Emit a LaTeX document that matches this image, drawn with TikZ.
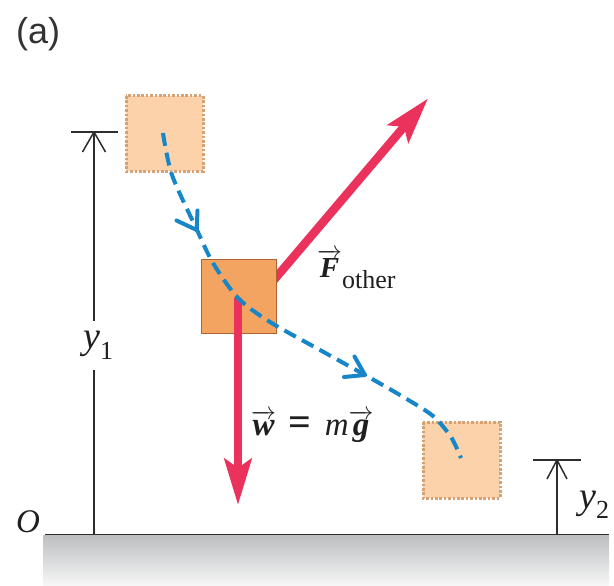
\documentclass[tikz,border=0pt]{standalone}
\usepackage{amsmath}
\usepackage{fontspec}
\setmainfont{Liberation Serif}
\newfontfamily\labelsans{Liberation Sans}
\usetikzlibrary{arrows.meta}
\definecolor{forcered}{RGB}{234,50,92}
\definecolor{pathblue}{RGB}{22,134,200}
\definecolor{boxfill}{RGB}{243,164,96}
\definecolor{boxline}{RGB}{176,98,48}
\definecolor{ghostfill}{RGB}{252,210,170}
\definecolor{ghostline}{RGB}{214,162,116}
\definecolor{dimgray}{RGB}{45,45,45}
\definecolor{groundtop}{RGB}{188,190,192}
\definecolor{groundbot}{RGB}{246,246,246}
\newcommand{\myvec}[1]{\ensuremath{\overrightarrow{\text{#1}}}}
\tikzset{
  dimline/.style={draw=dimgray, line width=1.5pt, line join=round},
  ghostbox/.style={fill=ghostfill, draw=ghostline, line width=3pt, dash pattern=on 2.6pt off 1.8pt},
  mainbox/.style={fill=boxfill, draw=boxline, line width=1.4pt},
  force/.style={draw=forcered, line width=8.5pt, -{Stealth[length=46pt,width=27pt,inset=9pt]}},
  motion/.style={draw=pathblue, line width=4pt, dash pattern=on 13pt off 7pt},
  chev/.style={draw=pathblue, line width=4pt, line join=round, line cap=round},
  lbl/.style={inner sep=0pt, anchor=base west, text=black!88}
}
\begin{document}
\begin{tikzpicture}[x=1pt,y=-1pt]
\useasboundingbox (0,0) rectangle (614,586);
\fill[white] (0,0) rectangle (614,586);

% ground
\shade[top color=groundtop, bottom color=groundbot] (43,535) rectangle (609,585);
\coordinate (gL) at (45,534.5);
\coordinate (gR) at (609,534.5);
\draw[dimline] (gL) -- (gR);
\node[lbl] (O) at (16,532) {\fontsize{33}{33}\selectfont\itshape O};

% y1 dimension
\coordinate (y1base) at (94,534);
\coordinate (y1top) at (94,132);
\coordinate (y1gapT) at (94,321);
\coordinate (y1gapB) at (94,370);
\coordinate (t1L) at (71,132);
\coordinate (t1R) at (118,132);
\coordinate (c1L) at (82.5,152);
\coordinate (c1R) at (105.5,152);
\draw[dimline] (y1base) -- (y1gapB);
\draw[dimline] (y1gapT) -- (y1top);
\draw[dimline] (t1L) -- (t1R);
\draw[dimline] (c1L) -- (y1top) -- (c1R);
\node[lbl] (y1) at (83,348) {\fontsize{38}{38}\selectfont\itshape y\raisebox{-11pt}{\fontsize{26}{26}\selectfont\upshape 1}};

% y2 dimension
\coordinate (y2base) at (557,534);
\coordinate (y2top) at (557,460);
\coordinate (t2L) at (533,460);
\coordinate (t2R) at (581,460);
\coordinate (c2L) at (547,479);
\coordinate (c2R) at (567,479);
\draw[dimline] (y2base) -- (y2top);
\draw[dimline] (t2L) -- (t2R);
\draw[dimline] (c2L) -- (y2top) -- (c2R);
\node[lbl] (y2) at (579,508) {\fontsize{38}{38}\selectfont\itshape y\raisebox{-10pt}{\fontsize{26}{26}\selectfont\upshape 2}};

% ghost boxes
\draw[ghostbox] (126,96) rectangle (203,171);
\draw[ghostbox] (423,422) rectangle (500,498);

% force F_other (behind the block)
\coordinate (Fstart) at (270.4,284.1);
\coordinate (Ftip) at (428,98.5);
\draw[force] (Fstart) -- (Ftip);

% block
\node[mainbox, minimum width=75pt, minimum height=74pt, inner sep=0pt, anchor=north west] (block) at (200.7,259) {};

% weight
\coordinate (wstart) at (238,298);
\coordinate (wtip) at (238,505);
\draw[force] (wstart) -- (wtip);

% motion path
\draw[motion] plot[smooth, tension=0.5] coordinates {(163,133) (172,175) (197,230) (213,263) (238,298) (270,322) (320,350) (365,375) (405,398) (433,416) (451,437) (461,458)};
\coordinate (a1) at (196.7,230);
\coordinate (a1u) at (197.5,210.5);
\coordinate (a1l) at (176.5,220.5);
\draw[chev] (a1u) -- (a1) -- (a1l);
\coordinate (a2) at (365,375);
\coordinate (a2u) at (354.5,356.5);
\coordinate (a2l) at (344,377);
\draw[chev] (a2u) -- (a2) -- (a2l);

% labels
\node[lbl] (Flab) at (317,277.5) {\fontsize{29}{29}\selectfont{\bfseries\itshape\myvec{F}}\raisebox{-10.5pt}{\fontsize{26}{26}\selectfont other}};
\node[lbl] (wlab) at (251,435) {\fontsize{33}{33}\selectfont{\bfseries\itshape\myvec{w}}\hspace{12pt}{\fontsize{40}{40}\selectfont\textbf{=}}\hspace{14pt}{\itshape m}{\bfseries\itshape\myvec{g}}};

% panel label
\node[lbl, text=black!80] (panel) at (16,44) {\labelsans\fontsize{36}{36}\selectfont (a)};
\end{tikzpicture}
\end{document}
